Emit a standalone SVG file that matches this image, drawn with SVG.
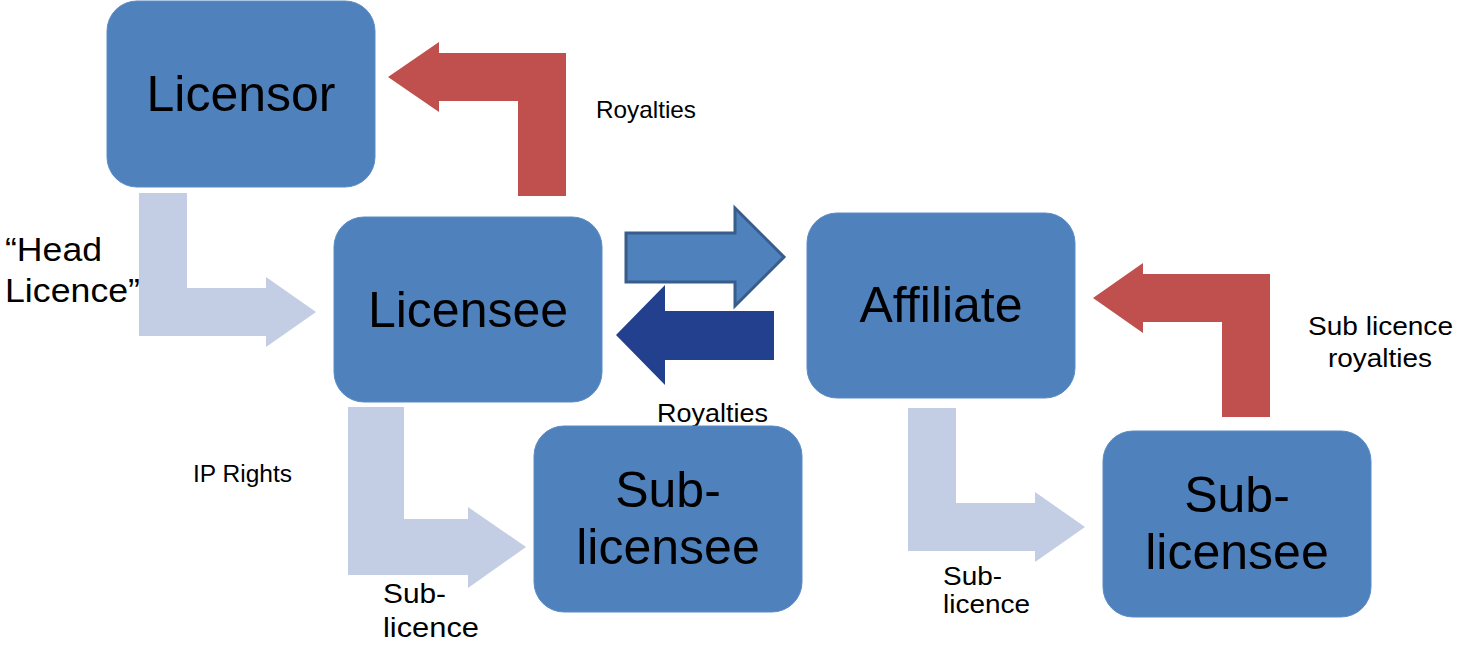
<svg xmlns="http://www.w3.org/2000/svg" width="1460" height="654" viewBox="0 0 1460 654">
  <style>
    .box { fill: #4f81bd; stroke: #5b8cc6; stroke-width: 1; }
    .big { font-family: "Liberation Sans", Arial, sans-serif; font-size: 50px; fill: #000; text-anchor: middle; }
    .lbl { font-family: "Liberation Sans", Arial, sans-serif; fill: #000; }
    .royal { fill: #c0504d; }
    .grant { fill: #c3cde3; }
    .toAff { fill: #4f81bd; stroke: #385d8a; stroke-width: 3; }
    .fromAff { fill: #23408f; }
  </style>

  <rect width="1460" height="654" fill="#ffffff"/>

  <!-- connectors: block arrows between the parties -->
  <g id="connectors">
    <polygon class="royal" points="388,77 439,42 439,53 566,53 566,196 518,196 518,101 439,101 439,112"/>
    <polygon class="royal" points="1093,298 1143,263 1143,274 1270,274 1270,417 1222,417 1222,322 1143,322 1143,333"/>
    <polygon class="grant" points="139,193 187,193 187,288 266,288 266,277 316,312 266,347 266,336 139,336"/>
    <polygon class="grant" points="348,407 404,407 404,519 468,519 468,507 526,547 468,588 468,575 348,575"/>
    <polygon class="grant" points="908,408 956,408 956,503 1035,503 1035,492 1085,527 1035,562 1035,551 908,551"/>
    <polygon class="toAff" points="626,233 735,233 735,208 784,257 735,306 735,282 626,282"/>
    <polygon class="fromAff" points="774,311 665,311 665,285 616,335 665,385 665,360 774,360"/>
  </g>

  <!-- connector labels -->
  <g id="labels">
    <text class="lbl" x="596" y="118" font-size="24" textLength="100" lengthAdjust="spacingAndGlyphs">Royalties</text>
    <text class="lbl" x="657" y="422" font-size="25" textLength="111" lengthAdjust="spacingAndGlyphs">Royalties</text>
    <text class="lbl" x="193" y="482" font-size="23" textLength="99" lengthAdjust="spacingAndGlyphs">IP Rights</text>
    <text class="lbl" x="5" y="261" font-size="33" textLength="97" lengthAdjust="spacingAndGlyphs">“Head</text>
    <text class="lbl" x="5" y="302" font-size="33" textLength="135" lengthAdjust="spacingAndGlyphs">Licence”</text>
    <text class="lbl" x="1308" y="335" font-size="26" textLength="145" lengthAdjust="spacingAndGlyphs">Sub licence</text>
    <text class="lbl" x="1328" y="367" font-size="26" textLength="104" lengthAdjust="spacingAndGlyphs">royalties</text>
    <text class="lbl" x="383" y="603" font-size="28" textLength="63" lengthAdjust="spacingAndGlyphs">Sub-</text>
    <text class="lbl" x="383" y="637" font-size="28" textLength="96" lengthAdjust="spacingAndGlyphs">licence</text>
    <text class="lbl" x="943" y="585" font-size="25" textLength="59" lengthAdjust="spacingAndGlyphs">Sub-</text>
    <text class="lbl" x="943" y="613" font-size="25" textLength="87" lengthAdjust="spacingAndGlyphs">licence</text>
  </g>

  <!-- parties -->
  <g id="licensor">
    <rect class="box" x="107" y="1" width="268" height="186" rx="30"/>
    <text class="big" x="241" y="111">Licensor</text>
  </g>
  <g id="licensee">
    <rect class="box" x="334" y="217" width="268" height="185" rx="30"/>
    <text class="big" x="468" y="327">Licensee</text>
  </g>
  <g id="affiliate">
    <rect class="box" x="807" y="213" width="268" height="185" rx="30"/>
    <text class="big" x="941" y="322">Affiliate</text>
  </g>
  <g id="sublicensee-1">
    <rect class="box" x="534" y="426" width="268" height="186" rx="30"/>
    <text class="big" x="668" y="507">Sub-</text>
    <text class="big" x="668" y="564">licensee</text>
  </g>
  <g id="sublicensee-2">
    <rect class="box" x="1103" y="431" width="268" height="186" rx="30"/>
    <text class="big" x="1237" y="512">Sub-</text>
    <text class="big" x="1237" y="569">licensee</text>
  </g>
</svg>
